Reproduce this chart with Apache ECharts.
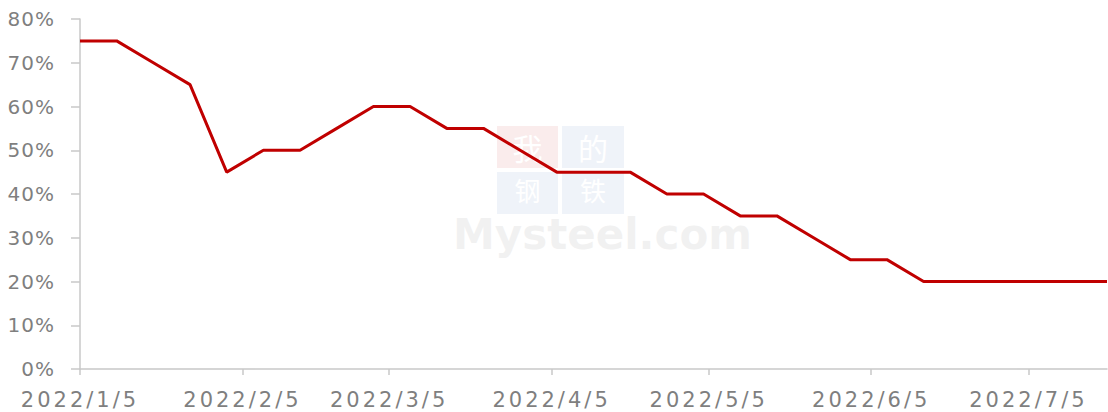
<!DOCTYPE html>
<html>
<head>
<meta charset="utf-8">
<script src="https://cdn.jsdelivr.net/npm/echarts@6/dist/echarts.min.js"></script>
<style>
html,body{margin:0;padding:0;background:#fff;}
#chart{width:1108px;height:412px;}
</style>
</head>
<body>
<div id="chart"></div>
<script>
const dates = ['2022-01-05','2022-01-12','2022-01-19','2022-01-26','2022-02-02','2022-02-09','2022-02-16','2022-02-23','2022-03-02','2022-03-09','2022-03-16','2022-03-23','2022-03-30','2022-04-06','2022-04-13','2022-04-20','2022-04-27','2022-05-04','2022-05-11','2022-05-18','2022-05-25','2022-06-01','2022-06-08','2022-06-15','2022-06-22','2022-06-29','2022-07-06','2022-07-13','2022-07-20'];
const values = [75,75,70,65,45,50,50,55,60,60,55,55,50,45,45,45,40,40,35,35,30,25,25,20,20,20,20,20,20];
const tickDates = ['2022-01-05','2022-02-05','2022-03-05','2022-04-05','2022-05-05','2022-06-05','2022-07-05'];

const DAY = 86400000;
const base = Date.UTC(2022,0,5);
function dayNum(s){const p=s.split('-').map(Number);return Math.round((Date.UTC(p[0],p[1]-1,p[2])-base)/DAY);}
const tickDays = tickDates.map(dayNum);
const chart = echarts.init(document.getElementById('chart'), null, {renderer:'svg'});
const wmPink = 'rgba(240,200,200,0.35)';
const wmBlue = 'rgba(215,225,240,0.4)';
function box(x,y,w,h,fill,ch,dy,fs){
  return {type:'group',left:x,top:y,z:-1,children:[
    {type:'rect',shape:{x:0,y:0,width:w,height:h},style:{fill:fill}},
    {type:'text',x:w/2,y:h/2+dy,style:{text:ch,fill:'#fff',fontSize:fs,fontFamily:'Noto Sans CJK SC',align:'center',verticalAlign:'middle'}}
  ]};
}
chart.setOption({
  animation:false,
  grid:{left:80,right:1,top:19,bottom:43,containLabel:false},
  graphic:[
    box(497,126,61,42,wmPink,'我',0,30),
    box(562,126,62,42,wmBlue,'的',0,30),
    box(497,172,61,42,wmBlue,'钢',-4,26),
    box(562,172,62,42,wmBlue,'铁',-4,26),
    {type:'text',left:453,top:213,z:-1,style:{text:'Mysteel.com',fontSize:42,fontWeight:'bold',fill:'rgba(215,215,215,0.35)',fontFamily:'DejaVu Sans'}}
  ],
  xAxis:{
    type:'value',
    min:0,
    max:dayNum(dates[dates.length-1]),
    splitLine:{show:false},
    axisLine:{show:true,lineStyle:{color:'#c8c8c8',width:1.5}},
    axisTick:{show:true,customValues:tickDays,length:6,lineStyle:{color:'#c8c8c8',width:1.5}},
    axisLabel:{
      customValues:tickDays,
      color:'#7f7f7f',fontSize:21,fontFamily:'DejaVu Sans',margin:20,hideOverlap:false,
      formatter:function(v){const d=new Date(base+v*DAY);return d.getUTCFullYear()+'/'+(d.getUTCMonth()+1)+'/'+d.getUTCDate();}
    }
  },
  yAxis:{
    type:'value',min:0,max:80,interval:10,
    splitLine:{show:false},
    axisLine:{show:true,lineStyle:{color:'#c8c8c8',width:1.5}},
    axisTick:{show:true,length:9,lineStyle:{color:'#c8c8c8',width:1.5}},
    axisLabel:{color:'#7f7f7f',fontSize:20,fontFamily:'DejaVu Sans',margin:25,
      formatter:function(v){return v+'%';}}
  },
  series:[{
    type:'line',
    data:dates.map((d,i)=>[dayNum(d),values[i]]),
    symbol:'none',
    lineStyle:{color:'#C00000',width:3},
    itemStyle:{color:'#C00000'}
  }]
});
function spaceLabels(){
  document.querySelectorAll('#chart text').forEach(function(t){
    if(t.textContent.indexOf('2022/')===0){t.style.letterSpacing='3px';}
    else if(t.textContent.indexOf('%')>0){t.style.letterSpacing='1px';}
  });
}
chart.on('finished',spaceLabels);
spaceLabels();
setTimeout(spaceLabels,50);
setTimeout(spaceLabels,300);
</script>
</body>
</html>
